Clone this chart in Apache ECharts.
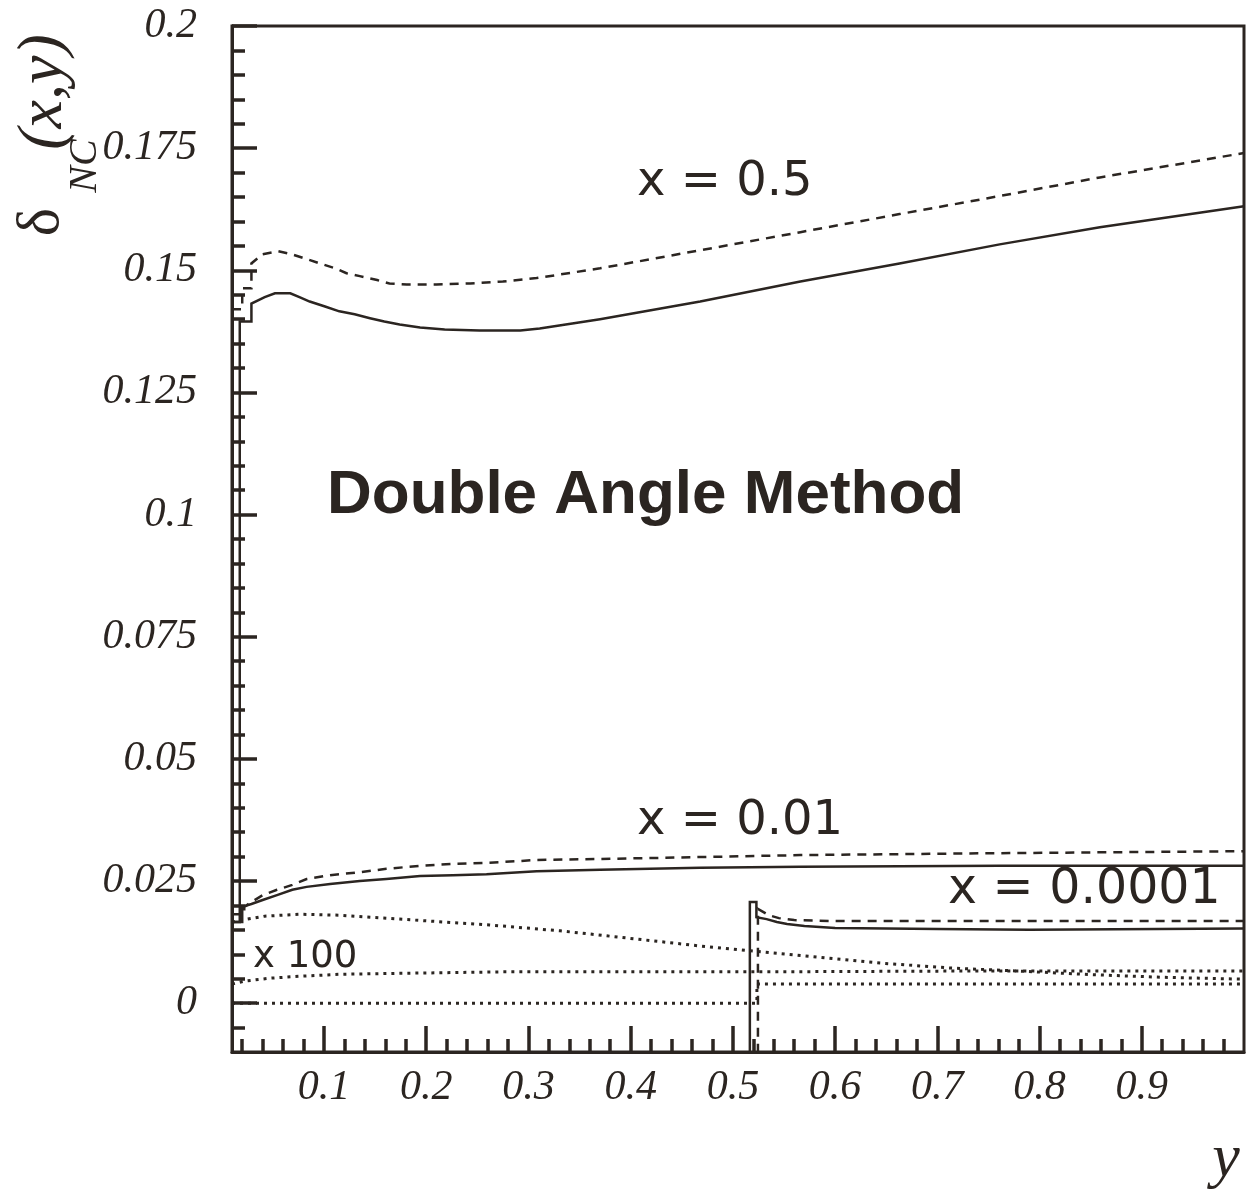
<!DOCTYPE html>
<html>
<head>
<meta charset="utf-8">
<title>Double Angle Method</title>
<script src="https://cdn.jsdelivr.net/npm/echarts@6/dist/echarts.min.js"></script>
<style>
  html, body { margin: 0; padding: 0; background: #ffffff; }
  #chart { width: 1248px; height: 1202px; }
</style>
</head>
<body>
<div id="chart"></div>
<script>
// delta_NC(x, y) versus y for three values of x, [y, delta] pairs
const x05Solid = [[0.010,0.0166],[0.0176,0.0166],[0.0176,0.1395],[0.029,0.1395],[0.029,0.1432],[0.042,0.1445],[0.052,0.1453],[0.067,0.1453],[0.076,0.1445],[0.086,0.1436],[0.101,0.1426],[0.115,0.1416],[0.130,0.1410],[0.145,0.1402],[0.159,0.1395],[0.174,0.1389],[0.194,0.1383],[0.218,0.1379],[0.252,0.1377],[0.292,0.1377],[0.311,0.1381],[0.370,0.1400],[0.468,0.1436],[0.566,0.1477],[0.663,0.1514],[0.761,0.1553],[0.859,0.1588],[1.000,0.1631]];
const x05Dashed = [[0.010,0.1420],[0.020,0.1420],[0.020,0.1463],[0.029,0.1463],[0.029,0.1514],[0.040,0.1533],[0.055,0.1539],[0.068,0.1533],[0.083,0.1523],[0.096,0.1514],[0.111,0.1504],[0.122,0.1494],[0.135,0.1488],[0.152,0.1480],[0.164,0.1473],[0.181,0.1471],[0.210,0.1471],[0.243,0.1473],[0.275,0.1477],[0.308,0.1484],[0.370,0.1504],[0.468,0.1541],[0.566,0.1578],[0.663,0.1615],[0.761,0.1652],[0.859,0.1690],[1.000,0.1740]];
const x001Solid = [[0.010,0.0166],[0.020,0.0166],[0.020,0.0197],[0.029,0.0203],[0.040,0.0211],[0.054,0.0221],[0.069,0.0232],[0.083,0.0238],[0.106,0.0244],[0.135,0.0250],[0.161,0.0254],[0.194,0.0260],[0.226,0.0262],[0.259,0.0264],[0.308,0.0270],[0.370,0.0273],[0.468,0.0277],[0.566,0.0279],[0.761,0.0281],[1.000,0.0281]];
const x001Dashed = [[0.010,0.0182],[0.022,0.0182],[0.022,0.0197],[0.029,0.0207],[0.040,0.0221],[0.054,0.0232],[0.069,0.0242],[0.083,0.0254],[0.106,0.0262],[0.135,0.0268],[0.161,0.0275],[0.194,0.0281],[0.226,0.0285],[0.259,0.0287],[0.308,0.0293],[0.370,0.0295],[0.566,0.0303],[0.761,0.0307],[1.000,0.0311]];
const x00001Solid = [[0.5166,-0.02],[0.5166,0.0207],[0.523,0.0207],[0.523,0.0176],[0.533,0.0172],[0.543,0.0166],[0.553,0.0162],[0.570,0.0158],[0.600,0.0154],[0.700,0.0152],[0.790,0.0150],[0.790,0.0153],[1.000,0.0153]];
const x00001Dashed = [[0.5245,-0.02],[0.5245,0.0193],[0.535,0.0180],[0.545,0.0174],[0.560,0.0170],[0.600,0.0168],[1.000,0.0168]];
// dotted curves, scaled by 100
const dotUpper = [[0.010,0.0166],[0.025,0.0172],[0.042,0.0178],[0.076,0.0182],[0.115,0.0180],[0.174,0.0172],[0.262,0.0160],[0.331,0.0148],[0.389,0.0135],[0.468,0.0117],[0.517,0.0107],[0.585,0.0094],[0.644,0.0082],[0.712,0.0072],[0.776,0.0066],[0.844,0.0059],[0.918,0.0053],[1.000,0.0049]];
const dotMiddle = [[0.010,0.0039],[0.022,0.0045],[0.047,0.0051],[0.076,0.0055],[0.115,0.0059],[0.174,0.0061],[0.272,0.0064],[0.517,0.0064],[0.761,0.0066],[1.000,0.0066]];
const dotLower = [[0.010,0.0000],[0.5235,0.0000],[0.5235,0.0039],[1.000,0.0039]];

// axis ticks
const xMajorTicks = [0.1,0.2,0.3,0.4,0.5,0.6,0.7,0.8,0.9];
const xMinorTicks = [0.02,0.04,0.06,0.08,0.12,0.14,0.16,0.18,0.22,0.24,0.26,0.28,0.32,0.34,0.36,0.38,0.42,0.44,0.46,0.48,0.52,0.54,0.56,0.58,0.62,0.64,0.66,0.68,0.72,0.74,0.76,0.78,0.82,0.84,0.86,0.88,0.92,0.94,0.96,0.98];
const yMajorTicks = [0,0.025,0.05,0.075,0.1,0.125,0.15,0.175,0.2];
const yMinorTicks = [-0.005,0.005,0.01,0.015,0.02,0.03,0.035,0.04,0.045,0.055,0.06,0.065,0.07,0.08,0.085,0.09,0.095,0.105,0.11,0.115,0.12,0.13,0.135,0.14,0.145,0.155,0.16,0.165,0.17,0.18,0.185,0.19,0.195];

const INK = '#2b2521';
const fmt = v => String(parseFloat(Number(v).toFixed(4)));
const tickFont = { fontFamily: 'Liberation Serif', fontStyle: 'italic', fontSize: 42, color: INK };

function curve(data, type, width) {
  return {
    type: 'line', data: data, showSymbol: false, symbol: 'none',
    xAxisIndex: 0, yAxisIndex: 0, clip: true, silent: true,
    lineStyle: { color: INK, width: width, type: type, cap: 'butt', join: 'miter' }
  };
}

const chart = echarts.init(document.getElementById('chart'), null, { renderer: 'canvas' });
chart.setOption({
  animation: false,
  backgroundColor: '#ffffff',
  grid: { left: 232, right: 4, top: 26, bottom: 150, show: true, borderColor: INK, borderWidth: 3, backgroundColor: 'transparent' },
  xAxis: [
    { type: 'value', min: 0.01, max: 1, position: 'bottom',
      axisLine: { show: true, onZero: false, lineStyle: { color: INK, width: 3 } },
      axisTick: { show: true, inside: true, length: 26, customValues: xMajorTicks, lineStyle: { color: INK, width: 3.5 } },
      axisLabel: Object.assign({ customValues: xMajorTicks, margin: 15, formatter: fmt }, tickFont),
      splitLine: { show: false } },
    { type: 'value', min: 0.01, max: 1, position: 'bottom',
      axisLine: { show: false, onZero: false },
      axisTick: { show: true, inside: true, length: 13, customValues: xMinorTicks, lineStyle: { color: INK, width: 3.5 } },
      axisLabel: { show: false }, splitLine: { show: false } }
  ],
  yAxis: [
    { type: 'value', min: -0.01, max: 0.2, position: 'left',
      axisLine: { show: true, onZero: false, lineStyle: { color: INK, width: 3 } },
      axisTick: { show: true, inside: true, length: 25, customValues: yMajorTicks, lineStyle: { color: INK, width: 3.5 } },
      axisLabel: Object.assign({ customValues: yMajorTicks, margin: 35, formatter: fmt }, tickFont),
      splitLine: { show: false } },
    { type: 'value', min: -0.01, max: 0.2, position: 'left',
      axisLine: { show: false, onZero: false },
      axisTick: { show: true, inside: true, length: 13, customValues: yMinorTicks, lineStyle: { color: INK, width: 3.5 } },
      axisLabel: { show: false }, splitLine: { show: false } }
  ],
  series: [
    curve(x05Solid, 'solid', 2.5),
    curve(x05Dashed, [9, 7], 2.5),
    curve(x001Solid, 'solid', 2.5),
    curve(x001Dashed, [9, 7], 2.5),
    curve(x00001Solid, 'solid', 2.5),
    curve(x00001Dashed, [9, 7], 2.5),
    curve(dotUpper, [3, 5], 3),
    curve(dotMiddle, [3, 5], 3),
    curve(dotLower, [3, 5], 3)
  ],
  graphic: [
    { type: 'text', x: 637, y: 183, silent: true, style: { text: 'x = 0.5', fontFamily: 'DejaVu Sans', fontSize: 48, fill: INK, verticalAlign: 'middle' } },
    { type: 'text', x: 327, y: 496, silent: true, style: { text: 'Double Angle Method', fontFamily: 'Liberation Sans', fontWeight: 'bold', fontSize: 62, fill: INK, verticalAlign: 'middle' } },
    { type: 'text', x: 637, y: 822, silent: true, style: { text: 'x = 0.01', fontFamily: 'DejaVu Sans', fontSize: 48, fill: INK, verticalAlign: 'middle' } },
    { type: 'text', x: 948, y: 890, silent: true, style: { text: 'x = 0.0001', fontFamily: 'DejaVu Sans', fontSize: 49, fill: INK, verticalAlign: 'middle' } },
    { type: 'text', x: 253, y: 957, silent: true, style: { text: 'x 100', fontFamily: 'DejaVu Sans', fontSize: 37, fill: INK, verticalAlign: 'middle' } },
    // axis titles
    { type: 'text', x: 1226, y: 1160, silent: true, style: { text: 'y', fontFamily: 'Liberation Serif', fontStyle: 'italic', fontSize: 62, fill: INK, align: 'center', verticalAlign: 'middle' } },
    { type: 'text', x: 42, y: 222, rotation: Math.PI / 2, silent: true, style: { text: 'δ', fontFamily: 'Liberation Serif', fontSize: 60, fill: INK, align: 'center', verticalAlign: 'middle' } },
    { type: 'text', x: 85, y: 166, rotation: Math.PI / 2, silent: true, style: { text: 'NC', fontFamily: 'Liberation Serif', fontStyle: 'italic', fontSize: 40, fill: INK, align: 'center', verticalAlign: 'middle' } },
    { type: 'text', x: 44, y: 92, rotation: Math.PI / 2, silent: true, style: { text: '(x,y)', fontFamily: 'Liberation Serif', fontStyle: 'italic', fontSize: 64, fill: INK, align: 'center', verticalAlign: 'middle' } }
  ]
});
</script>
</body>
</html>
